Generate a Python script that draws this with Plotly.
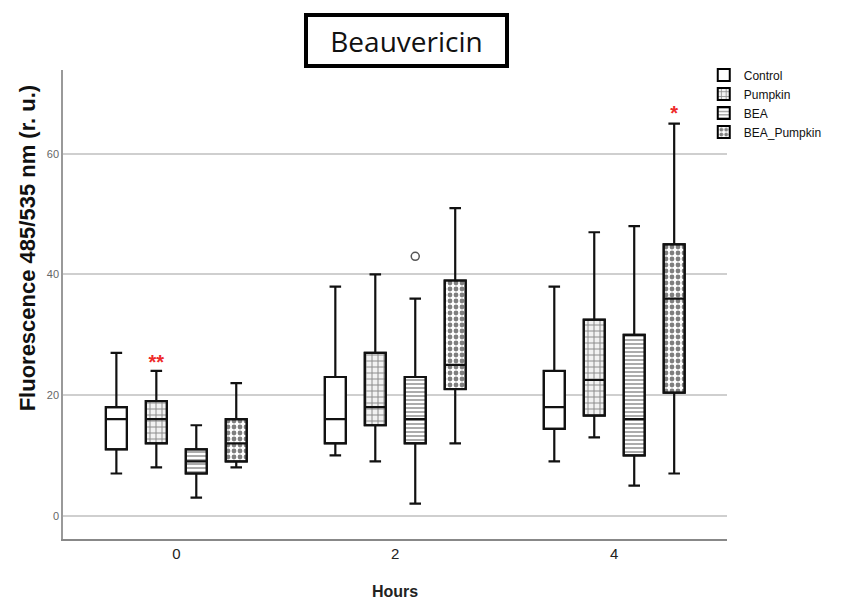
import plotly.graph_objects as go

hours = [0, 2, 4]
groups = ["Control", "Pumpkin", "BEA", "BEA_Pumpkin"]

# per group: values at hours 0, 2, 4
lower = {
    "Control": [7, 10, 9],
    "Pumpkin": [8, 9, 13],
    "BEA": [3, 2, 5],
    "BEA_Pumpkin": [8, 12, 7],
}
q1 = {
    "Control": [11, 12, 14.4],
    "Pumpkin": [12, 15, 16.6],
    "BEA": [7, 12, 10],
    "BEA_Pumpkin": [9, 21, 20.4],
}
median = {
    "Control": [16, 16, 18],
    "Pumpkin": [16, 18, 22.5],
    "BEA": [9, 16, 16],
    "BEA_Pumpkin": [12, 25, 36],
}
q3 = {
    "Control": [18, 23, 24],
    "Pumpkin": [19, 27, 32.5],
    "BEA": [11, 23, 30],
    "BEA_Pumpkin": [16, 39, 45],
}
upper = {
    "Control": [27, 38, 38],
    "Pumpkin": [24, 40, 47],
    "BEA": [15, 36, 48],
    "BEA_Pumpkin": [22, 51, 65],
}
outlier_group = "BEA"
outlier_hour = 2
outlier_value = 43

sig_labels = ["<b>**</b>", "<b>*</b>"]
sig_groups = ["Pumpkin", "BEA_Pumpkin"]
sig_hours = [0, 4]
sig_values = [25.2, 66.4]

patterns = {
    "Control": dict(shape="", bgcolor="white"),
    "Pumpkin": dict(shape="+", size=6, solidity=0.3, fgcolor="#222", bgcolor="#f2f2f2"),
    "BEA": dict(shape="-", size=4, solidity=0.35, fgcolor="#111", bgcolor="white"),
    "BEA_Pumpkin": dict(shape=".", size=6, solidity=0.5, fgcolor="#000", bgcolor="white"),
}

GAP = 0.27
GROUPGAP = 0.474
n = len(groups)
min_diff = 2
slot = min_diff * (1 - GAP) / n


def offset(g):
    return (groups.index(g) - (n - 1) / 2) * slot


fig = go.Figure()

for g in groups:
    fig.add_trace(go.Bar(
        x=hours,
        y=[b - a for a, b in zip(q1[g], q3[g])],
        base=q1[g],
        name=g,
        marker=dict(color="white", pattern=patterns[g], line=dict(color="black", width=2)),
        showlegend=True,
        hoverinfo="skip",
    ))

for g in groups:
    fig.add_trace(go.Box(
        x=hours,
        q1=q1[g], median=median[g], q3=q3[g],
        lowerfence=lower[g], upperfence=upper[g],
        name=g,
        fillcolor="rgba(0,0,0,0)",
        line=dict(color="#111", width=2.2),
        whiskerwidth=0.55,
        boxpoints=False,
        showlegend=False,
    ))

fig.add_trace(go.Scatter(
    x=[outlier_hour + offset(outlier_group)], y=[outlier_value],
    mode="markers",
    marker=dict(symbol="circle-open", size=8, color="#555", line=dict(width=1.5)),
    showlegend=False, hoverinfo="skip",
))

fig.add_trace(go.Scatter(
    x=[h + offset(g) for h, g in zip(sig_hours, sig_groups)], y=sig_values,
    mode="text", text=sig_labels,
    textfont=dict(color="#ee2a2a", size=20, family="Liberation Sans"),
    textposition="middle center",
    showlegend=False, hoverinfo="skip",
))

fig.update_layout(
    width=845, height=605,
    margin=dict(l=63, r=118, t=70, b=66),
    paper_bgcolor="white", plot_bgcolor="white",
    barmode="group", bargap=GAP, bargroupgap=GROUPGAP,
    boxmode="group", boxgap=GAP, boxgroupgap=GROUPGAP,
    font=dict(family="Liberation Sans", color="#222"),
    legend=dict(
        x=0.965, y=1.02, xanchor="left", yanchor="top",
        font=dict(size=12, color="#111"),
        tracegroupgap=0, itemwidth=30,
        bgcolor="rgba(0,0,0,0)",
    ),
    annotations=[
        dict(text="Beauvericin", x=0.5166, y=1.062, xref="paper", yref="paper",
             showarrow=False, font=dict(size=28, family="Open Sans", color="#111"),
             bordercolor="black", borderwidth=4, borderpad=2, width=193, height=43,
             xanchor="center", yanchor="middle"),
        dict(text="<b>Fluorescence 485/535 nm (r. u.)</b>", x=-0.054, y=0.62,
             xref="paper", yref="paper", showarrow=False, textangle=-90,
             font=dict(size=22, family="Liberation Sans", color="#111"),
             xanchor="center", yanchor="middle"),
    ],
)

fig.update_xaxes(
    range=[-1.035, 5.03], tickvals=hours, ticktext=[str(h) for h in hours],
    showgrid=False, zeroline=False, showline=True, linecolor="#888", linewidth=1.5,
    ticks="", tickfont=dict(size=15, color="#222"), automargin=False,
    title=dict(text="<b>Hours</b>", font=dict(size=16, color="#222"), standoff=25),
)
fig.update_yaxes(
    range=[-3.86, 73.9], tickvals=[0, 20, 40, 60], automargin=False,
    showgrid=True, gridcolor="#cfcfcf", gridwidth=2,
    zeroline=False, showline=True, linecolor="#999", linewidth=1.5,
    ticks="", tickfont=dict(size=11, color="#666"),
)

fig.write_html("out.html")
